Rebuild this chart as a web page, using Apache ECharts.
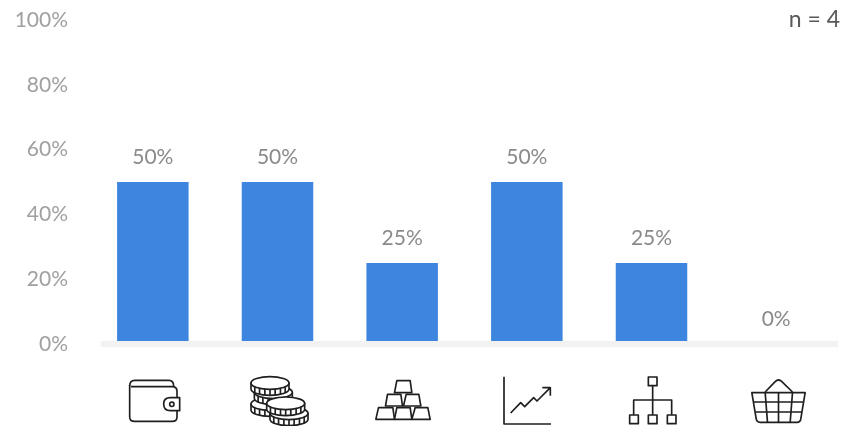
<!DOCTYPE html>
<html>
<head>
<meta charset="utf-8">
<style>html,body{margin:0;padding:0;background:#fff}#chart{width:850px;height:426px}</style>
<script src="https://cdn.jsdelivr.net/npm/echarts@6/dist/echarts.min.js"></script>
</head>
<body>
<div id="chart"></div>
<script>
const categories = ['wallet', 'coins', 'gold', 'stocks', 'business', 'goods'];
const shares = [50, 50, 25, 50, 25, 0];
const yTicks = { min: 0, max: 100, step: 20 };
const sampleNote = 'n = 4';

const FONT = 'Lato, "Open Sans", sans-serif';
const INK = '#1f1f1f';

// Pictograms are authored on a 3x grid; each is anchored on its category centre.
const ICON_SCALE = 1 / 3;
const ICON_TOP = 330;

function stroke(pathData, fill) {
  return {
    type: 'path',
    shape: { pathData: pathData },
    style: { stroke: INK, lineWidth: 5, fill: fill || 'none', lineJoin: 'round' }
  };
}

function box(x, y, s) {
  return stroke(`M${x} ${y}H${x + s}V${y + s}H${x}Z`, '#fff');
}

function coin(cx, cy) {
  const rx = 57, ry = 19, h = 18;
  const k = 0.5523;
  const top = `M${cx - rx} ${cy}C${cx - rx} ${cy - ry * k} ${cx - rx * k} ${cy - ry} ${cx} ${cy - ry}` +
    `C${cx + rx * k} ${cy - ry} ${cx + rx} ${cy - ry * k} ${cx + rx} ${cy}` +
    `C${cx + rx} ${cy + ry * k} ${cx + rx * k} ${cy + ry} ${cx} ${cy + ry}` +
    `C${cx - rx * k} ${cy + ry} ${cx - rx} ${cy + ry * k} ${cx - rx} ${cy}Z`;
  const side = `M${cx - rx} ${cy}V${cy + h}` +
    `C${cx - rx} ${cy + h + ry * k} ${cx - rx * k} ${cy + h + ry} ${cx} ${cy + h + ry}` +
    `C${cx + rx * k} ${cy + h + ry} ${cx + rx} ${cy + h + ry * k} ${cx + rx} ${cy + h}V${cy}Z`;
  let ridges = '';
  [-0.8, -0.55, -0.27, 0, 0.27, 0.55, 0.8].forEach(t => {
    const x = cx + t * rx;
    const dy = ry * Math.sqrt(1 - t * t);
    ridges += `M${x} ${cy + dy}V${cy + dy + h}`;
  });
  return [stroke(side, '#fff'), stroke(ridges), stroke(top, '#fff')];
}

const iconShapes = {
  wallet: { anchor: 127.5, parts: [
    stroke('M58 168Q58 151 73 151L176 151Q190 151 190 168'),
    stroke('M58 165L58 260Q58 274 73 274L186 274Q200 274 200 260L200 242M200 203L200 184Q200 170 186 170L62 170'),
    stroke('M208 203L180 203Q160 203 160 222Q160 242 180 242L208 242Z', '#fff'),
    stroke('M191 223A6.5 6.5 0 1 1 178 223A6.5 6.5 0 1 1 191 223Z')
  ] },
  coins: { anchor: 502.5, parts: [
    ...coin(480, 222), ...coin(490, 187), ...coin(480, 159),
    ...coin(537, 250), ...coin(527, 220)
  ] },
  gold: { anchor: 876, parts: [
    stroke('M860 152H900L905 188H853Z', '#fff'),
    stroke('M832 193H872L877 228H826Z', '#fff'),
    stroke('M888 193H926L932 228H880Z', '#fff'),
    stroke('M805 233H848L853 268H797Z', '#fff'),
    stroke('M860 233H900L905 268H853Z', '#fff'),
    stroke('M915 233H953L960 268H905Z', '#fff')
  ] },
  stocks: { anchor: 139.5, parts: [
    stroke('M71 140V282H212'),
    stroke('M91 249L121 218L133 230L160 203L170 213L210 173M186 173H210V197')
  ] },
  business: { anchor: 514.5, parts: [
    box(505, 141, 26),
    stroke('M518 167V255M461 255V210H575V255'),
    box(449, 255, 26), box(505, 255, 26), box(562, 255, 26)
  ] },
  goods: { anchor: 888, parts: [
    stroke('M855 186L885 155Q895 145 905 155L937 186'),
    stroke('M815 188H975L962 266Q961 277 950 277H840Q830 277 828 266Z'),
    stroke('M855 188L862 277M895 188V277M937 188L930 277M820 216H970M825 246H965')
  ] }
};

const chart = echarts.init(document.getElementById('chart'), null, { renderer: 'canvas' });

chart.setOption({
  animation: false,
  backgroundColor: '#fff',
  title: {
    text: sampleNote,
    right: 5,
    top: 3,
    textStyle: { fontFamily: FONT, fontSize: 23, fontWeight: 'normal', color: '#595959' }
  },
  grid: { left: 90.5, right: 11.5, top: 20, bottom: 82 },
  xAxis: {
    type: 'category',
    data: categories,
    axisLine: { show: false },
    axisTick: { show: false },
    axisLabel: { show: false }
  },
  yAxis: {
    type: 'value',
    min: yTicks.min,
    max: yTicks.max,
    interval: yTicks.step,
    axisLine: { show: false },
    axisTick: { show: false },
    splitLine: { show: false },
    axisLabel: {
      margin: 22.5,
      formatter: '{value}%',
      fontFamily: FONT,
      fontSize: 21,
      color: '#a0a0a0'
    }
  },
  series: [
    {
      type: 'bar',
      data: shares,
      barWidth: 71.5,
      itemStyle: { color: '#3D85DF' },
      label: {
        show: true,
        position: 'top',
        distance: 14,
        formatter: '{c}%',
        fontFamily: FONT,
        fontSize: 21,
        color: '#8a8a8a'
      }
    },
    {
      // One pictogram per category, hanging below the baseline.
      type: 'custom',
      silent: true,
      clip: false,
      data: categories.map((_, i) => [i, 0]),
      encode: { x: 0, y: 1 },
      renderItem(params, api) {
        const icon = iconShapes[categories[params.dataIndex]];
        return {
          type: 'group',
          x: api.coord([api.value(0), 0])[0] - icon.anchor * ICON_SCALE,
          y: ICON_TOP,
          scaleX: ICON_SCALE,
          scaleY: ICON_SCALE,
          children: icon.parts
        };
      }
    }
  ],
  // Baseline sits over the bar feet.
  graphic: [{
    type: 'rect',
    z: 10,
    shape: { x: 101, y: 341, width: 737, height: 6 },
    style: { fill: '#F2F2F2' }
  }]
});
</script>
</body>
</html>
